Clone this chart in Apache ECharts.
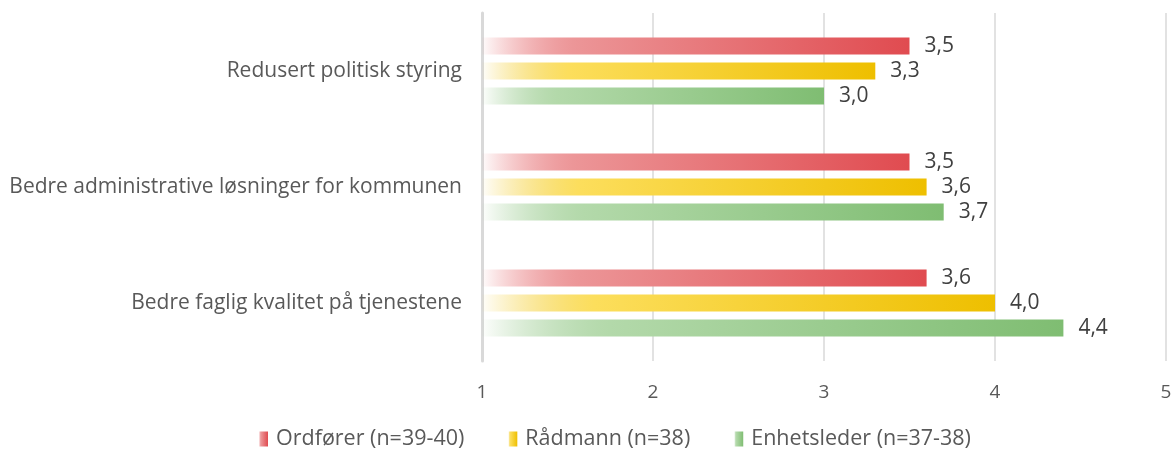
<!DOCTYPE html>
<html>
<head>
<meta charset="utf-8">
<script src="https://cdn.jsdelivr.net/npm/echarts@6/dist/echarts.min.js"></script>
<style>
  html, body { margin: 0; padding: 0; background: #fff; }
  #chart { width: 1175px; height: 455px; }
</style>
</head>
<body>
<div id="chart"></div>
<script>
// kategorier, ovenfra og ned
var categories = ['Redusert politisk styring', 'Bedre administrative løsninger for kommunen', 'Bedre faglig kvalitet på tjenestene'];
var seriesNames = ['Ordfører (n=39-40)', 'Rådmann (n=38)', 'Enhetsleder (n=37-38)'];
var ordforer = [3.5, 3.5, 3.6];
var radmann = [3.3, 3.6, 4.0];
var enhetsleder = [3.0, 3.7, 4.4];
var xTicks = [1, 2, 3, 4, 5];

var FONT = '"Open Sans", "Noto Sans", sans-serif';

// gradient fra hvitt til farge, som i Excel
function fade(mid, end, r, g, b) {
  return new echarts.graphic.LinearGradient(0, 0, 1, 0, [
    { offset: 0, color: 'rgba(' + r + ',' + g + ',' + b + ',0.02)' },
    { offset: 0.22, color: mid },
    { offset: 1, color: end }
  ]);
}

var colors = [
  fade('#ec9597', '#e04b50', 224, 75, 80),
  fade('#fcde5c', '#eebf00', 238, 191, 0),
  fade('#b3d9aa', '#7fbd72', 127, 189, 114)
];

function makeSeries(name, data, color) {
  return {
    name: name,
    type: 'bar',
    data: data,
    barWidth: 17,
    barGap: '47%',
    itemStyle: { color: color },
    label: {
      show: true,
      position: 'right',
      distance: 15,
      fontFamily: FONT,
      fontSize: 21,
      color: '#404040',
      formatter: function (p) { return p.value.toFixed(1).replace('.', ','); }
    }
  };
}

var chart = echarts.init(document.getElementById('chart'), null, { renderer: 'canvas' });

var option = {
  backgroundColor: '#ffffff',
  animation: false,
  grid: { left: 482, right: 9, top: 13, bottom: 94, containLabel: false },
  legend: {
    bottom: 0,
    left: 254,
    itemWidth: 9,
    itemHeight: 15,
    itemGap: 44,
    icon: 'rect',
    textStyle: { fontFamily: FONT, fontSize: 21.5, color: '#595959', padding: [0, 0, 0, 3] },
    data: seriesNames
  },
  xAxis: {
    type: 'value',
    min: 1,
    max: 5,
    interval: 1,
    axisLine: { show: false },
    axisTick: { show: false },
    splitLine: { lineStyle: { color: '#d9d9d9', width: 1.5 } },
    axisLabel: {
      margin: 22,
      fontFamily: FONT,
      fontSize: 19,
      color: '#595959',
      formatter: function (v) { return xTicks.indexOf(v) >= 0 ? String(v) : ''; }
    }
  },
  yAxis: {
    type: 'category',
    inverse: true,
    data: categories,
    axisLine: { show: true, lineStyle: { color: '#d9d9d9', width: 3 } },
    axisTick: { show: false },
    axisLabel: {
      margin: 20,
      fontFamily: FONT,
      fontSize: 21,
      color: '#595959'
    }
  },
  series: [
    makeSeries(seriesNames[0], ordforer, colors[0]),
    makeSeries(seriesNames[1], radmann, colors[1]),
    makeSeries(seriesNames[2], enhetsleder, colors[2])
  ]
};

chart.setOption(option);
</script>
</body>
</html>
